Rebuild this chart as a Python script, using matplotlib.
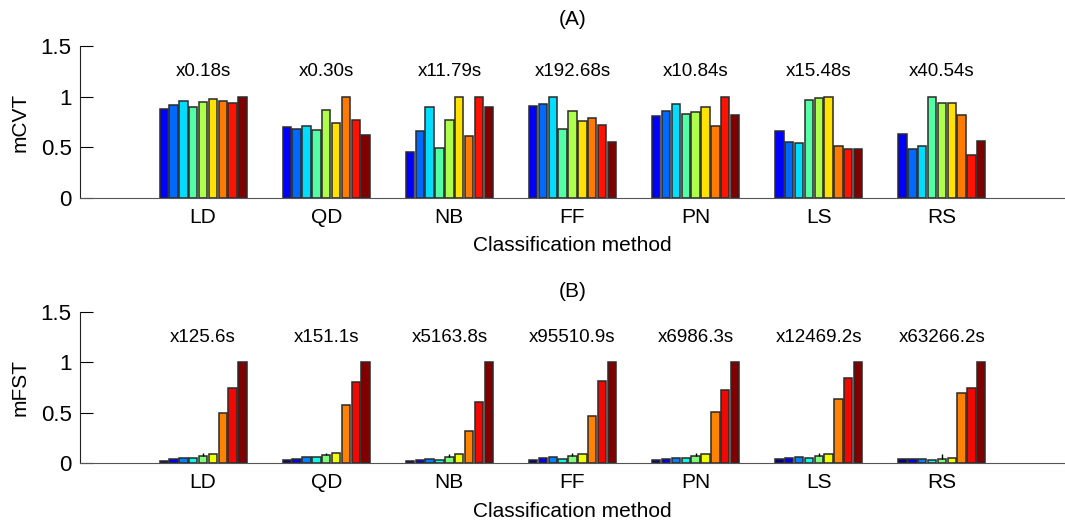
import numpy as np
import matplotlib
matplotlib.use('Agg')
import matplotlib.pyplot as plt

plt.rcParams['font.family'] = ['Liberation Sans', 'DejaVu Sans']

# datos
metodos = ['LD', 'QD', 'NB', 'FF', 'PN', 'LS', 'RS']
tiempos_a = ['x0.18s', 'x0.30s', 'x11.79s', 'x192.68s', 'x10.84s', 'x15.48s', 'x40.54s']
tiempos_b = ['x125.6s', 'x151.1s', 'x5163.8s', 'x95510.9s', 'x6986.3s', 'x12469.2s', 'x63266.2s']

mcvt = [
    [0.88, 0.92, 0.96, 0.90, 0.95, 0.98, 0.96, 0.94, 1.00],
    [0.70, 0.68, 0.71, 0.67, 0.87, 0.74, 1.00, 0.77, 0.62],
    [0.45, 0.66, 0.90, 0.49, 0.77, 1.00, 0.61, 1.00, 0.90],
    [0.91, 0.93, 1.00, 0.68, 0.86, 0.76, 0.79, 0.72, 0.55],
    [0.81, 0.86, 0.93, 0.83, 0.85, 0.90, 0.71, 1.00, 0.82],
    [0.66, 0.55, 0.54, 0.97, 0.99, 1.00, 0.51, 0.48, 0.48],
    [0.63, 0.48, 0.51, 1.00, 0.94, 0.94, 0.82, 0.42, 0.56],
]

mfst = [
    [0.023, 0.036, 0.050, 0.050, 0.066, 0.089, 0.50, 0.75, 1.00],
    [0.030, 0.043, 0.056, 0.056, 0.079, 0.103, 0.58, 0.81, 1.00],
    [0.017, 0.030, 0.043, 0.026, 0.060, 0.093, 0.32, 0.61, 1.00],
    [0.030, 0.050, 0.060, 0.040, 0.066, 0.093, 0.47, 0.82, 1.00],
    [0.030, 0.036, 0.050, 0.050, 0.066, 0.093, 0.51, 0.73, 1.00],
    [0.036, 0.050, 0.060, 0.053, 0.073, 0.093, 0.64, 0.84, 1.00],
    [0.036, 0.043, 0.043, 0.026, 0.036, 0.050, 0.70, 0.75, 1.00],
]
# barra de error (solo la quinta barra de cada grupo)
err_b5 = [0.033, 0.025, 0.030, 0.030, 0.030, 0.028, 0.057]

colores_a = plt.cm.jet(np.linspace(0.12, 1.0, 9))
colores_b = plt.cm.jet([0.0, 0.1, 0.25, 0.37, 0.5, 0.64, 0.77, 0.9, 1.0])

fig = plt.figure(figsize=(10.65, 5.28), dpi=100)
ax_a = fig.add_axes([0.0751, 0.625, 0.9249, 0.2879])
ax_b = fig.add_axes([0.0751, 0.123, 0.9249, 0.286])

paso = 0.08
ancho = 0.068
x = np.arange(1, len(metodos) + 1)


def dibujar(ax, datos, colores, textos, titulo, ylabel, pad_titulo, errores=None):
    datos = np.array(datos)
    for j in range(datos.shape[1]):
        pos = x + (j - 4) * paso
        ax.bar(pos, datos[:, j], width=ancho, color=colores[j],
               edgecolor='#2a2a2a', linewidth=1.1, zorder=2)
        if errores is not None and j == 4:
            ax.errorbar(pos, datos[:, j], yerr=[np.zeros(len(errores)), errores],
                        fmt='none', ecolor='black', elinewidth=1, capsize=0, zorder=3)
    for k, t in enumerate(textos):
        ax.text(x[k], 1.25, t, ha='center', va='center', fontsize=13.5)
    ax.set_xlim(0, 8)
    ax.set_ylim(0, 1.5)
    ax.set_yticks([0, 0.5, 1, 1.5])
    ax.set_yticklabels(['0', '0.5', '1', '1.5'])
    ax.set_xticks(x)
    ax.set_xticklabels(metodos)
    ax.tick_params(axis='y', direction='in', length=9, labelsize=16, pad=6)
    ax.tick_params(axis='x', direction='in', length=4, labelsize=15, pad=7)
    ax.spines['top'].set_visible(False)
    ax.spines['right'].set_visible(False)
    ax.spines['left'].set_color('#222222')
    ax.spines['bottom'].set_color('#555555')
    ax.set_title(titulo, fontsize=15, pad=pad_titulo)
    ax.set_ylabel(ylabel, fontsize=15, labelpad=8)
    ax.set_xlabel('Classification method', fontsize=15, labelpad=7)


dibujar(ax_a, mcvt, colores_a, tiempos_a, '(A)', 'mCVT', 15)
dibujar(ax_b, mfst, colores_b, tiempos_b, '(B)', 'mFST', 11, errores=err_b5)

fig.savefig('out.png', dpi=100)
